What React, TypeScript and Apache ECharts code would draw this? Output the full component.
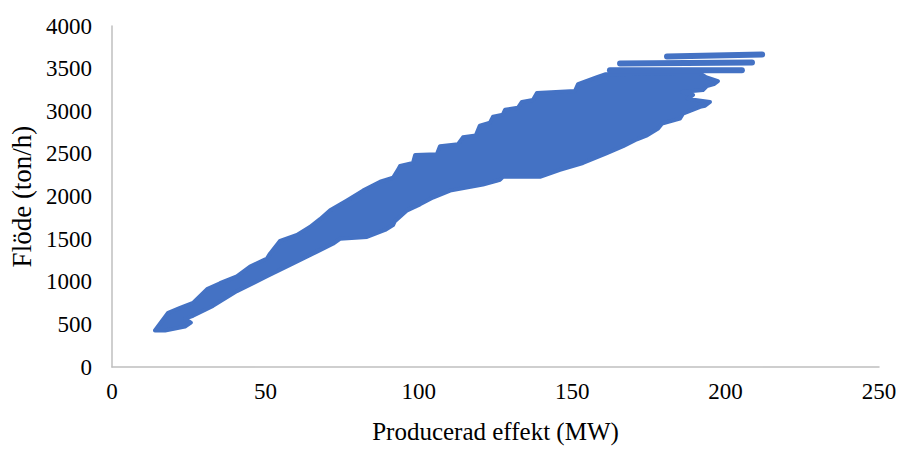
import React, { useEffect, useRef } from "react";
import * as echarts from "echarts";

// Outline of the dense point cloud (Producerad effekt MW, Flöde ton/h), traced clockwise
const outlinePower = [
  14.0, 18.3, 22.2, 26.4, 31.0, 35.2, 40.7, 45.0, 50.5, 51.5, 54.8, 60.3, 64.5, 67.8, 71.1, 76.6,
  81.8, 87.4, 91.6, 93.2, 93.9, 98.1, 98.8, 105.9, 106.9, 112.8, 114.4, 118.6, 119.9, 123.2,
  124.2, 127.4, 128.1, 132.3, 133.6, 137.2, 138.5, 150.9,
  151.9, 158.1, 160.7, 191.7, 193.6, 197.5, 196.2, 193.9, 192.6, 185.8, 189.4, 187.7, 194.9,
  193.3, 191.7, 186.1, 185.1, 179.3, 178.0, 174.4, 171.1, 166.6, 161.3, 153.5, 146.0, 139.5,
  127.4, 126.5, 120.9, 110.2, 104.6, 100.4, 96.2, 92.2, 91.6, 89.0, 83.1, 74.3, 72.0, 66.8,
  59.0, 50.5, 40.7, 32.9, 26.4, 23.8, 25.7, 23.8, 17.3,
];
const outlineFlow = [
  428, 636, 694, 751, 913, 983, 1064, 1179, 1272, 1330, 1480, 1549, 1642, 1734, 1838, 1954,
  2069, 2173, 2220, 2312, 2358, 2393, 2486, 2497, 2590, 2613, 2694, 2717, 2832, 2867,
  2936, 2960, 3017, 3041, 3110, 3133, 3214, 3237,
  3318, 3399, 3434, 3445, 3399, 3353, 3318, 3295, 3249, 3226, 3191, 3145, 3110,
  3064, 3052, 2971, 2913, 2856, 2798, 2717, 2671, 2590, 2509, 2393, 2312, 2231,
  2231, 2197, 2139, 2069, 1988, 1908, 1838, 1711, 1665, 1607, 1526, 1503, 1445, 1353,
  1214, 1064, 890, 717, 601, 566, 520, 474, 428,
];

// Isolated horizontal runs at the top right: [power start, flow start, power end, flow end]
const streakTop = [180.9, 3642, 211.9, 3665];
const streakSecond = [165.6, 3561, 208.6, 3572];
const streakThird = [162.3, 3480, 205.3, 3480];

const xTicks = { min: 0, max: 250, interval: 50 };
const yTicks = { min: 0, max: 4000, interval: 500 };

const BLUE = "#4472C4";

export default function App() {
  const ref = useRef<HTMLDivElement>(null);
  useEffect(() => {
    if (!ref.current) return;
    const chart = echarts.init(ref.current, null, { renderer: "svg" });
    const font = "'Liberation Serif', 'Times New Roman', serif";
    const streaks = [streakTop, streakSecond, streakThird].map((s) => ({
      type: "line",
      data: [
        [s[0], s[1]],
        [s[2], s[3]],
      ],
      showSymbol: false,
      silent: true,
      lineStyle: { color: BLUE, width: 6, cap: "round" },
      z: 3,
    }));
    chart.setOption({
      animation: false,
      grid: { left: 112, right: 24, top: 26, bottom: 77, containLabel: false },
      xAxis: {
        type: "value",
        min: xTicks.min,
        max: xTicks.max,
        interval: xTicks.interval,
        name: "Producerad effekt (MW)",
        nameLocation: "middle",
        nameGap: 52,
        nameTextStyle: { fontFamily: font, fontSize: 25, color: "#000" },
        axisLine: { show: true, lineStyle: { color: "#BFBFBF", width: 1.5 } },
        axisTick: { show: false },
        splitLine: { show: false },
        axisLabel: {
          fontFamily: font,
          fontSize: 23,
          color: "#000",
          margin: 13,
          formatter: (v: number) => String(v),
        },
      },
      yAxis: {
        type: "value",
        min: yTicks.min,
        max: yTicks.max,
        interval: yTicks.interval,
        name: "Flöde (ton/h)",
        nameLocation: "middle",
        nameGap: 65,
        nameTextStyle: { fontFamily: font, fontSize: 27, color: "#000" },
        axisLine: { show: true, lineStyle: { color: "#BFBFBF", width: 1.5 } },
        axisTick: { show: false },
        splitLine: { show: false },
        axisLabel: {
          fontFamily: font,
          fontSize: 23,
          color: "#000",
          margin: 20,
          formatter: (v: number) => String(v),
        },
      },
      series: [
        {
          type: "custom",
          data: [[outlinePower[0], outlineFlow[0]]],
          silent: true,
          z: 2,
          renderItem: (_params: any, api: any) => {
            const points = outlinePower.map((p, i) => api.coord([p, outlineFlow[i]]));
            return {
              type: "polygon",
              shape: { points },
              style: { fill: BLUE, stroke: BLUE, lineWidth: 4, lineJoin: "round" },
            };
          },
        },
        ...streaks,
      ],
    });
    return () => chart.dispose();
  }, []);
  return (
    <div
      ref={ref}
      style={{ position: "fixed", left: 0, top: 0, width: 903, height: 449, background: "#fff" }}
    />
  );
}
